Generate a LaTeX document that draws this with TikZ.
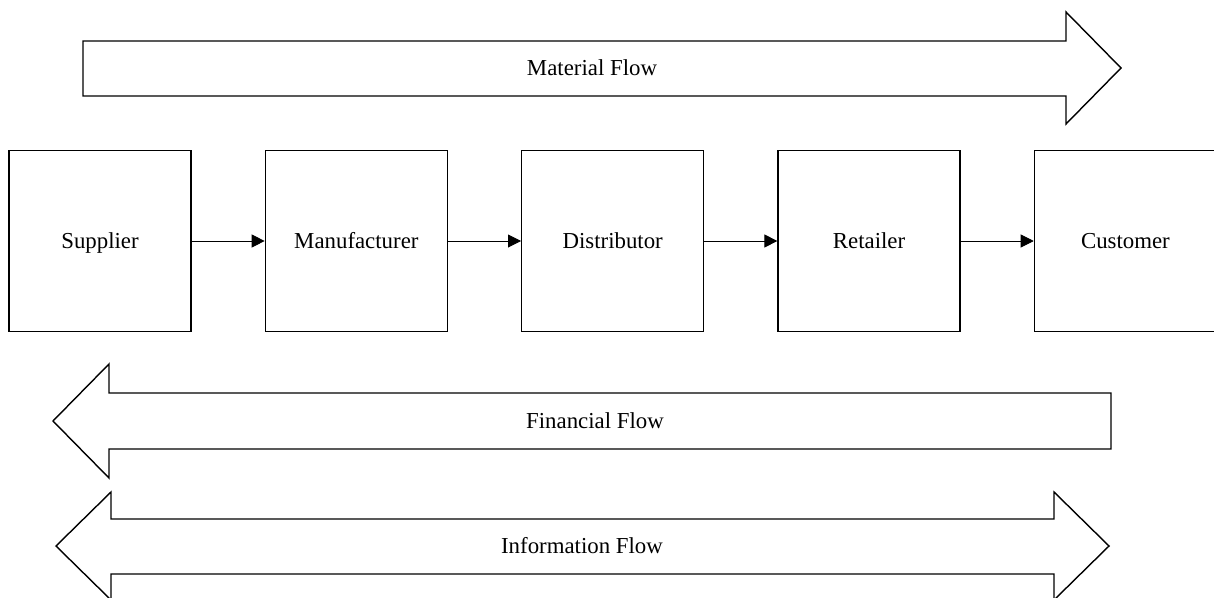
\documentclass[tikz,border=0pt]{standalone}
\usepackage{fontspec}
\setmainfont{Liberation Serif}
\usepackage{tikz}
\usetikzlibrary{arrows.meta, positioning}
\tikzset{
	party/.style   ={rectangle, draw=black, line width=0.8pt, minimum width=3.64cm, minimum height=3.62cm, align=center, inner sep=0pt, text height=2.0ex, text depth=0.2ex},
	link/.style    ={-{Triangle[length=2.6mm, width=2.6mm]}, line width=0.5pt},
	bigarrow/.style={draw=black, line width=0.8pt, line join=miter},
	flowlabel/.style={inner sep=0pt},
}

\begin{document}
\begin{tikzpicture}[font=\fontsize{13}{15}\selectfont, x=0.02cm, y=-0.02cm]
	\useasboundingbox (0,0) rectangle (1214,598);
	% the five parties of the chain
	\node[party] (sup) at (100,241) {Supplier};
	\node[party, right=1.46cm of sup] (man) {Manufacturer};
	\node[party, right=1.46cm of man] (dis) {Distributor};
	\node[party, right=1.46cm of dis] (ret) {Retailer};
	\node[party, right=1.46cm of ret] (cus) {Customer};
	\draw[link] (sup) -- (man);
	\draw[link] (man) -- (dis);
	\draw[link] (dis) -- (ret);
	\draw[link] (ret) -- (cus);
	% block arrows
	\draw[bigarrow] (83,41) -- (1066,41) -- (1066,12) -- (1121,68) -- (1066,124) -- (1066,96) -- (83,96) -- cycle;
	\node[flowlabel] (matflow) at (592,68) {Material Flow};
	\draw[bigarrow] (1111,393) -- (109,393) -- (109,364) -- (53,421) -- (109,478) -- (109,449) -- (1111,449) -- cycle;
	\node[flowlabel] (finflow) at (595,421) {Financial Flow};
	\draw[bigarrow] (111,519) -- (1054,519) -- (1054,492) -- (1109,546) -- (1054,600) -- (1054,574) -- (111,574) -- (111,600) -- (56,546) -- (111,492) -- cycle;
	\node[flowlabel] (infflow) at (582,546) {Information Flow};
\end{tikzpicture}
\end{document}
